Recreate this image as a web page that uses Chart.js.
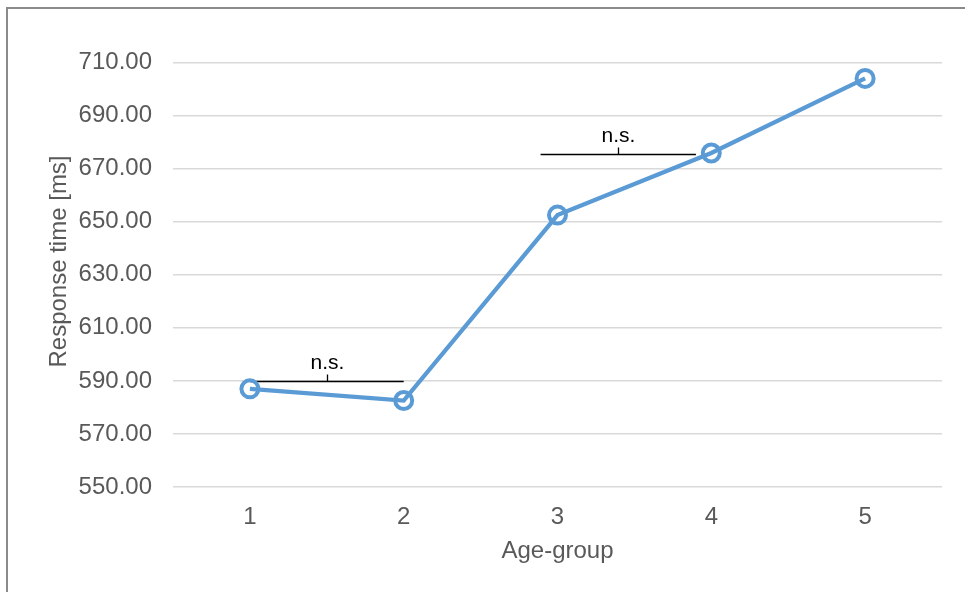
<!DOCTYPE html>
<html>
<head>
<meta charset="utf-8">
<script src="https://cdn.jsdelivr.net/npm/chart.js@4/dist/chart.umd.min.js"></script>
<style>
  html, body { margin: 0; padding: 0; background: #ffffff; overflow: hidden; }
  #wrap { position: relative; width: 965px; height: 592px; }
  #frame { position: absolute; left: 6px; top: 7px; width: 1000px; height: 1000px;
           border: 2px solid #8a8a8a; box-sizing: border-box; pointer-events: none; }
  canvas { position: absolute; left: 0; top: 0; }
</style>
</head>
<body>
<div id="wrap">
  <canvas id="chart" width="965" height="592"></canvas>
  <div id="frame"></div>
</div>
<script>
// Age groups and mean response times
const ageGroups = ['1', '2', '3', '4', '5'];
const responseTimes = [587.0, 582.6, 652.5, 675.9, 704.0];
const yTicks = [550, 570, 590, 610, 630, 650, 670, 690, 710];

// Significance brackets ("n.s."), in category-index and value units
const bracketLabels = ['n.s.', 'n.s.'];
const bracketFrom = [0, 1.89];
const bracketTo = [1, 2.9];
const bracketLevel = [590, 675.7];

const FONT = "'Liberation Sans', Arial, sans-serif";
const GREY = '#595959';

// Brackets with their "n.s." labels, placed through the chart scales
const bracketPlugin = {
  id: 'brackets',
  beforeDatasetsDraw(chart) {
    const { ctx, scales: { x, y } } = chart;
    ctx.save();
    ctx.strokeStyle = '#000000';
    ctx.lineWidth = 1.3;
    ctx.fillStyle = '#000000';
    ctx.font = '21px ' + FONT;
    ctx.textAlign = 'center';
    ctx.textBaseline = 'alphabetic';
    bracketLabels.forEach((label, i) => {
      const x0 = x.getPixelForValue(bracketFrom[i]);
      const x1 = x.getPixelForValue(bracketTo[i]);
      const yy = Math.round(y.getPixelForValue(bracketLevel[i])) + 0.5;
      const xm = Math.round((x0 + x1) / 2) + 0.5;
      ctx.beginPath();
      ctx.moveTo(x0, yy);
      ctx.lineTo(x1, yy);
      ctx.moveTo(xm, yy);
      ctx.lineTo(xm, yy - 7);
      ctx.stroke();
      ctx.fillText(label, xm, yy - 13);
    });
    ctx.restore();
  }
};

new Chart(document.getElementById('chart'), {
  type: 'line',
  data: {
    labels: ageGroups,
    datasets: [{
      data: responseTimes,
      borderColor: '#5B9BD5',
      borderWidth: 4.2,
      backgroundColor: 'rgba(0,0,0,0)',
      pointBackgroundColor: 'rgba(0,0,0,0)',
      pointBorderColor: '#5B9BD5',
      pointBorderWidth: 4,
      pointRadius: 8.5,
      tension: 0
    }]
  },
  options: {
    responsive: false,
    animation: false,
    events: [],
    layout: { padding: { left: 41, right: 23, top: 36, bottom: 26 } },
    plugins: { legend: { display: false }, tooltip: { enabled: false } },
    scales: {
      x: {
        offset: true,
        grid: { display: false },
        border: { display: false },
        ticks: { color: GREY, font: { family: FONT, size: 24 }, padding: 8 },
        title: { display: true, text: 'Age-group', color: GREY,
                 font: { family: FONT, size: 24 }, padding: { top: 4, bottom: 0 } },
        afterFit(axis) { axis.height = 79; }
      },
      y: {
        min: 550,
        max: 720,
        afterBuildTicks(axis) { axis.ticks = yTicks.map(v => ({ value: v })); },
        grid: { color: '#d9d9d9', lineWidth: 1.5, drawTicks: false },
        border: { display: false },
        ticks: { color: GREY, font: { family: FONT, size: 24 }, padding: 21,
                 callback: v => Number(v).toFixed(2) },
        title: { display: true, text: 'Response time [ms]', color: GREY,
                 font: { family: FONT, size: 24 }, padding: { top: 4, bottom: 4 } },
        afterFit(axis) { axis.width = 132; }
      }
    }
  },
  plugins: [bracketPlugin]
});
</script>
</body>
</html>
